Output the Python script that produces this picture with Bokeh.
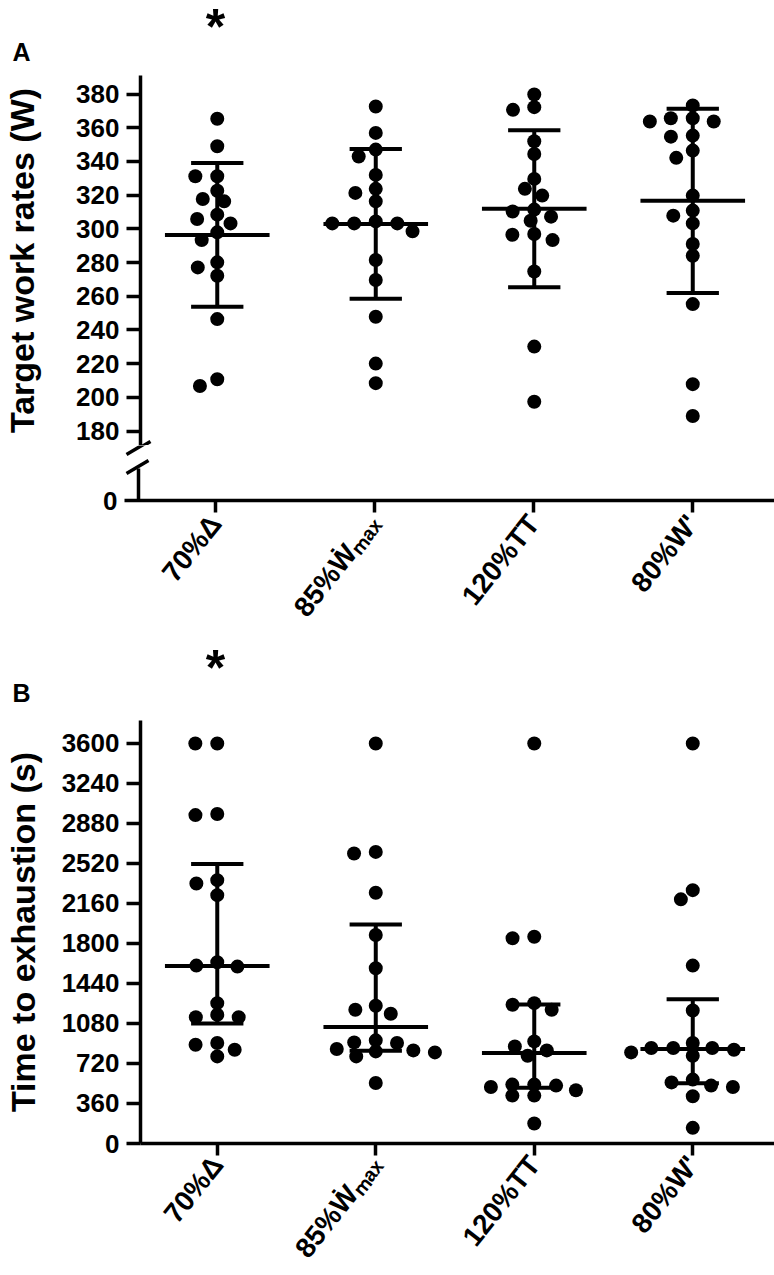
import numpy as np
from bokeh.plotting import figure
from bokeh.models import Range1d, FixedTicker
from bokeh.core.properties import value
from bokeh.layouts import column
from bokeh.embed import file_html
from bokeh.resources import INLINE

# ---------------- data ----------------
categories = ["70%Δ", "85%Ẇₘₐₓ", "120%TT", "80%W'"]
significance = ["*", "", "", ""]

# Panel A: target work rates (W)
wr_70_delta = [365.3, 349.0, 331.2, 331.2, 322.6, 316.3, 317.7, 308.4, 305.8,
               303.2, 297.9, 293.3, 280.1, 277.1, 272.1, 246.4, 206.7, 210.7]
wr_85_wmax = [372.6, 356.9, 347.0, 342.9, 332.0, 321.3, 323.7, 316.3, 303.2,
              303.2, 304.4, 303.2, 298.5, 281.5, 269.6, 247.8, 220.0, 208.4]
wr_120_tt = [379.7, 372.2, 370.6, 352.0, 344.4, 329.6, 323.7, 319.7, 311.4,
             307.2, 310.3, 304.8, 296.9, 296.5, 293.3, 274.7, 230.1, 197.4]
wr_80_wprime = [373.2, 363.7, 365.6, 365.6, 363.7, 355.3, 354.7, 346.4, 342.1,
                319.7, 307.8, 310.8, 303.2, 291.0, 284.0, 255.3, 207.8, 188.9]

# Panel B: time to exhaustion (s)
tte_70_delta = [3600, 3600, 2955, 2965, 2370, 2340, 2235, 1601, 1631,
                1592, 1263, 1137, 1137, 1158, 904, 844, 889, 784]
tte_85_wmax = [3600, 2610, 2624, 2256, 1876, 1577, 1203, 1239, 1167,
               904, 928, 910, 829, 850, 838, 820, 784, 545]
tte_120_tt = [3600, 1847, 1861, 1263, 1248, 1203, 873, 838, 919,
              790, 521, 530, 530, 431, 479, 509, 431, 180]
tte_80_wprime = [3600, 2280, 2197, 1601, 1197, 859, 859, 820, 790,
                 904, 844, 859, 509, 575, 521, 550, 425, 141]

wr_ticks = [180, 200, 220, 240, 260, 280, 300, 320, 340, 360, 380]
wr_low_tick = 0
tte_ticks = [0, 360, 720, 1080, 1440, 1800, 2160, 2520, 2880, 3240, 3600]

wr_groups = [wr_70_delta, wr_85_wmax, wr_120_tt, wr_80_wprime]
tte_groups = [tte_70_delta, tte_85_wmax, tte_120_tt, tte_80_wprime]

# ---------------- layout (page pixels, page origin = 0,0) ----------------
FONT = "Liberation Sans"
W = 774
AXIS_X = 138                     # page x of the y axes
CAT1_X, CAT_STEP = 215, 159      # page x of first category, spacing
PX_X = CAT_STEP
X0 = 1 - (CAT1_X - AXIS_X) / PX_X
X1 = X0 + (W - AXIS_X) / PX_X
XF0 = X0 - AXIS_X / PX_X         # x start for full-width frames
TICK_OUT = 14
LBL_STANDOFF = 7

HDR_A_H = 75                      # page 0..75
A_TOP_H = 370                     # page 75..445 (frame)
A_BOT_FRAME = 67                  # page 445..512
A_BOT_B = 128                     # page 512..640
HDR_B_H = 80                      # page 640..720
B_FRAME = 424                     # page 720..1144
B_B = 131                         # page 1144..1275

A_PX_380, A_PX_180 = 93.5, 430.5
PX_A = (A_PX_180 - A_PX_380) / (380 - 180)
A_Y1 = 380 + (A_PX_380 - HDR_A_H) / PX_A
A_Y0 = A_Y1 - A_TOP_H / PX_A
A_BOT_TOP = HDR_A_H + A_TOP_H
A_ZERO = 500
HDR_B_TOP = A_BOT_TOP + A_BOT_FRAME + A_BOT_B
B_TOP = HDR_B_TOP + HDR_B_H
B_ZERO = B_TOP + B_FRAME
PX_B = (B_ZERO - 743.0) / 3600
B_Y1 = B_FRAME / PX_B


def x_at(page_x):
    return X0 + (page_x - AXIS_X) / PX_X


def yA(page_y):
    return A_Y1 - (page_y - HDR_A_H) / PX_A


def yAl(page_y):
    return (A_ZERO - page_y) / PX_A


def base(width, height, xr, yr, left=0, right=0, top=0, bottom=0,
         xloc="below", yloc="left", align=True):
    p = figure(width=width, height=height, x_range=xr, y_range=yr,
               output_backend="svg", toolbar_location=None,
               x_axis_location=xloc, y_axis_location=yloc,
               min_border_left=left, min_border_right=right,
               min_border_top=top, min_border_bottom=bottom)
    if not align:
        p.frame_align = False
    p.outline_line_color = None
    p.grid.visible = False
    p.background_fill_color = "white"
    p.border_fill_color = "white"
    return p


def style_axis(ax, size="26px"):
    ax.axis_line_width = 3.5
    ax.axis_line_color = "black"
    ax.major_tick_line_width = 3.5
    ax.major_tick_line_color = "black"
    ax.major_tick_out = TICK_OUT
    ax.major_tick_in = 0
    ax.minor_tick_line_color = None
    ax.major_label_text_font = FONT
    ax.major_label_text_font_style = "bold"
    ax.major_label_text_font_size = size
    ax.major_label_text_color = "black"
    ax.major_label_standoff = LBL_STANDOFF
    ax.axis_label_text_font = FONT
    ax.axis_label_text_font_style = "bold"
    ax.axis_label_text_font_size = "34px"
    ax.axis_label_text_color = "black"


def cat_axis(p, standoff=4):
    ax = p.xaxis[0]
    style_axis(ax, "28px")
    ax.ticker = FixedTicker(ticks=[1, 2, 3, 4])
    ax.major_label_overrides = {i + 1: c for i, c in enumerate(categories)}
    ax.major_label_orientation = 0.9
    ax.major_label_standoff = standoff
    return ax


def swarm(vals, px_per_unit, sx=22.0, sy=11.0):
    vals = np.asarray(vals, dtype=float)
    order = np.argsort(-vals, kind="stable")
    placed = []
    offs = np.zeros(len(vals))
    for i in order:
        y = vals[i] * px_per_unit
        cands = [0.0]
        for (px, py) in placed:
            dy = y - py
            if abs(dy) < sy:
                dx = sx * np.sqrt(1 - (dy / sy) ** 2)
                cands += [px - dx, px + dx]
        cands = sorted(cands, key=lambda c: (abs(c), c))
        chosen = cands[-1]
        for c in cands:
            if all(((c - px) / sx) ** 2 + ((y - py) / sy) ** 2 >= 0.999
                   for (px, py) in placed):
                chosen = c
                break
        placed.append((chosen, y))
        offs[i] = chosen
    return offs / PX_X


def draw_group(p, vals, i, px_per_unit, center, lo, hi):
    offs = swarm(vals, px_per_unit)
    p.scatter(x=i + offs, y=vals, size=14, color="black", line_color=None)
    p.segment(x0=[i], y0=[lo], x1=[i], y1=[hi], line_width=4, color="black")
    p.segment(x0=[i - 0.165, i - 0.165, i - 0.33], y0=[lo, hi, center],
              x1=[i + 0.165, i + 0.165, i + 0.33], y1=[lo, hi, center],
              line_width=4, color="black")


def txt(p, x, y, s, size, baseline="middle", align="center"):
    p.text(x=[x], y=[y], text=[s], text_font=value(FONT),
           text_font_style="bold", text_font_size=size, text_color="black",
           text_align=align, text_baseline=baseline)


# ---------------- header A ("A" and significance) ----------------
hA = base(W, HDR_A_H, Range1d(XF0, X1), Range1d(HDR_A_H, 0),
          xloc=None, yloc=None, align=False)
txt(hA, x_at(21), 51, "A", "25px")
for i, s in enumerate(significance):
    if s:
        txt(hA, i + 1, 26, s, "50px")

# ---------------- Panel A upper segment ----------------
pA = base(W, A_TOP_H, Range1d(X0, X1), Range1d(A_Y0, A_Y1),
          left=AXIS_X, xloc=None)
ya = pA.yaxis[0]
style_axis(ya)
ya.ticker = FixedTicker(ticks=wr_ticks)
ya.axis_label = "Target work rates (W)"
ya.axis_label_standoff = 32

for i, vals in enumerate(wr_groups):
    v = np.asarray(vals, float)
    m, sd = v.mean(), v.std(ddof=1)
    draw_group(pA, vals, i + 1, PX_A, m, m - sd, m + sd)

# axis-break slash (upper-right part lives in this frame)
pA.segment(x0=[x_at(126)], y0=[yA(454)], x1=[x_at(148)], y1=[yA(441)],
           line_width=3.5, color="black")

# ---------------- Panel A lower segment (0) with category labels ----------------
pAl = base(W, A_BOT_FRAME + A_BOT_B, Range1d(XF0, X1),
           Range1d(yAl(A_BOT_TOP + A_BOT_FRAME), yAl(A_BOT_TOP)),
           bottom=A_BOT_B, yloc=None, align=False)
xa = cat_axis(pAl, standoff=4 + TICK_OUT - (A_BOT_TOP + A_BOT_FRAME - A_ZERO))
xa.axis_line_color = None
xa.major_tick_line_color = None
xa.major_tick_out = 0
# x axis line at 0 (extending left as the "0" tick), category ticks
pAl.segment(x0=[x_at(AXIS_X - TICK_OUT)], y0=[wr_low_tick], x1=[X1],
            y1=[wr_low_tick], line_width=3.5, color="black")
pAl.segment(x0=[1, 2, 3, 4], y0=[wr_low_tick] * 4, x1=[1, 2, 3, 4],
            y1=[wr_low_tick - TICK_OUT / PX_A] * 4, line_width=3.5,
            color="black")
# lower axis stub and the two break slashes
pAl.segment(x0=[X0], y0=[wr_low_tick], x1=[X0], y1=[yAl(468)],
            line_width=3.5, color="black")
pAl.segment(x0=[x_at(126), x_at(126)], y0=[yAl(454), yAl(473)],
            x1=[x_at(148), x_at(148)], y1=[yAl(441), yAl(460)],
            line_width=3.5, color="black")
txt(pAl, x_at(AXIS_X - TICK_OUT - LBL_STANDOFF), wr_low_tick,
    str(wr_low_tick), "26px", align="right")

# ---------------- header B ----------------
hB = base(W, HDR_B_H, Range1d(XF0, X1), Range1d(HDR_B_H, 0),
          xloc=None, yloc=None, align=False)
txt(hB, x_at(21), 692 - HDR_B_TOP, "B", "25px")
for i, s in enumerate(significance):
    if s:
        txt(hB, i + 1, 667 - HDR_B_TOP, s, "50px")

# ---------------- Panel B ----------------
pB = base(W, B_FRAME + B_B, Range1d(X0, X1), Range1d(0, B_Y1),
          left=AXIS_X, bottom=B_B)
yb = pB.yaxis[0]
style_axis(yb)
yb.ticker = FixedTicker(ticks=tte_ticks)
yb.axis_label = "Time to exhaustion (s)"
yb.axis_label_standoff = 17
xb = cat_axis(pB)
xb.major_tick_out = 12

for i, vals in enumerate(tte_groups):
    v = np.asarray(vals, float)
    med = np.median(v)
    q1, q3 = np.percentile(v, [25, 75], method="weibull")
    draw_group(pB, vals, i + 1, PX_B, med, q1, q3)

layout = column(hA, pA, pAl, hB, pB, spacing=0)
open("out.html", "w").write(file_html(layout, INLINE))
